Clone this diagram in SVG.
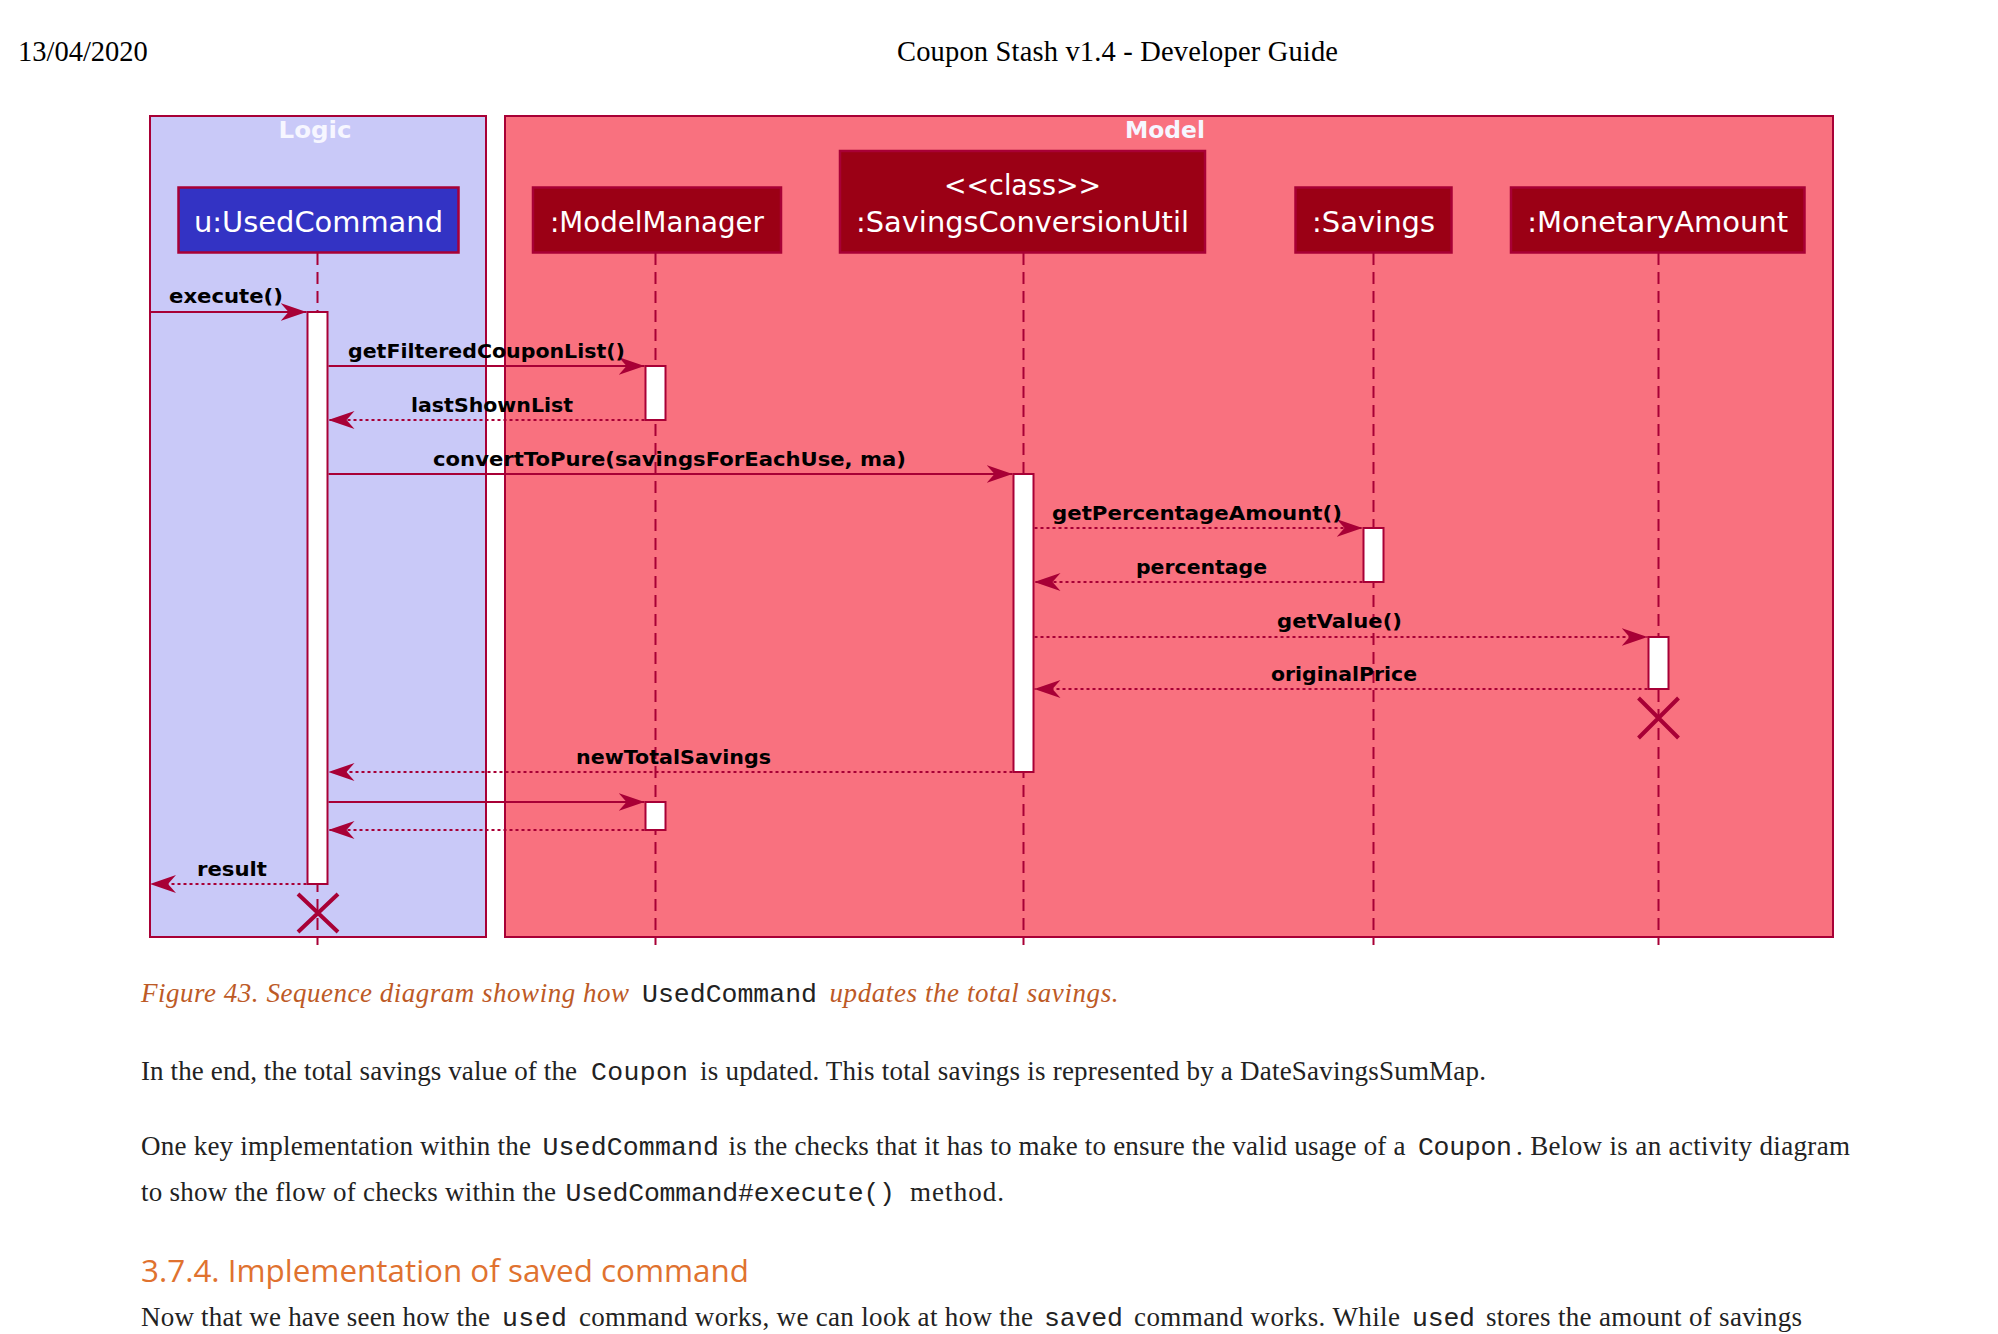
<svg xmlns="http://www.w3.org/2000/svg" width="1998" height="1334" viewBox="0 0 1998 1334">
<style>
.page{font-family:"Liberation Serif","Times New Roman",serif;font-size:28.5px;fill:#000}
.body{font-family:"Liberation Serif","Times New Roman",serif;font-size:27px;fill:#222}
.mono{font-family:"Liberation Mono","Courier New",monospace;font-size:26.5px;fill:#222}
.cap{font-family:"Liberation Serif","Times New Roman",serif;font-size:27px;font-style:italic;fill:#BD5A26}
.h3{font-family:"Open Sans","Noto Sans",sans-serif;font-size:31.4px;fill:#E0722F}
.frame{stroke:#A80036;stroke-width:2}
.frametitle{font-family:"DejaVu Sans",sans-serif;font-weight:bold;font-size:23px;fill:#F6F6FF;text-anchor:middle}
.life{stroke:#A80036;stroke-width:2;stroke-dasharray:12,7;fill:none}
.part{stroke:#A80036;stroke-width:2.5}
.ptext{font-family:"DejaVu Sans",sans-serif;font-size:28px;fill:#FFFFFF;text-anchor:middle}
.act{fill:#FFFFFF;stroke:#A80036;stroke-width:2}
.msg{stroke:#A80036;stroke-width:2;fill:none;marker-end:url(#arr)}
.ret{stroke:#A80036;stroke-width:2;fill:none;stroke-dasharray:3,3;marker-end:url(#arr)}
.lbl{font-family:"DejaVu Sans",sans-serif;font-weight:bold;font-size:20px;fill:#000}
.kill{stroke:#A80036;stroke-width:4;fill:none}
</style>
<defs>
<marker id="arr" markerUnits="userSpaceOnUse" viewBox="0 0 26 20" refX="26" refY="10" markerWidth="26" markerHeight="20" orient="auto">
<path d="M0,1 L26,10 L0,19 L8,10 Z" fill="#A80036"/>
</marker>
</defs>
<rect width="1998" height="1334" fill="#FFFFFF"/>

<g id="page-header">
<text class="page" x="18" y="60.7">13/04/2020</text>
<text class="page" x="897" y="60.7" textLength="441">Coupon Stash v1.4 - Developer Guide</text>
</g>

<g id="frame-logic">
<rect class="frame" x="150" y="116" width="336" height="821" fill="#C9C9F8"/>
<text class="frametitle" x="315" y="138" textLength="73" lengthAdjust="spacingAndGlyphs">Logic</text>
</g>
<g id="frame-model">
<rect class="frame" x="505" y="116" width="1328" height="821" fill="#F9717F"/>
<text class="frametitle" x="1165" y="138" textLength="80" lengthAdjust="spacingAndGlyphs">Model</text>
</g>

<g id="lifelines">
<line class="life" x1="317.5" y1="253" x2="317.5" y2="945"/>
<line class="life" x1="655.5" y1="253" x2="655.5" y2="945"/>
<line class="life" x1="1023.5" y1="253" x2="1023.5" y2="945"/>
<line class="life" x1="1373.5" y1="253" x2="1373.5" y2="945"/>
<line class="life" x1="1658.5" y1="253" x2="1658.5" y2="945"/>
</g>

<g id="p-usedcommand">
<rect class="part" x="178.5" y="187.5" width="280" height="65" fill="#3333C4"/>
<text class="ptext" x="318.5" y="231.5" textLength="249" lengthAdjust="spacingAndGlyphs">u:UsedCommand</text>
</g>
<g id="p-modelmanager">
<rect class="part" x="533" y="187.5" width="248" height="65" fill="#9B0015"/>
<text class="ptext" x="657" y="231.5" textLength="214" lengthAdjust="spacingAndGlyphs">:ModelManager</text>
</g>
<g id="p-savingsconversionutil">
<rect class="part" x="840" y="151" width="365" height="101.5" fill="#9B0015"/>
<text class="ptext" x="1022.5" y="195" textLength="157" lengthAdjust="spacingAndGlyphs">&lt;&lt;class&gt;&gt;</text>
<text class="ptext" x="1022.5" y="231.5" textLength="333" lengthAdjust="spacingAndGlyphs">:SavingsConversionUtil</text>
</g>
<g id="p-savings">
<rect class="part" x="1295.5" y="187.5" width="156" height="65" fill="#9B0015"/>
<text class="ptext" x="1373.5" y="231.5" textLength="123" lengthAdjust="spacingAndGlyphs">:Savings</text>
</g>
<g id="p-monetaryamount">
<rect class="part" x="1511" y="187.5" width="293.5" height="65" fill="#9B0015"/>
<text class="ptext" x="1657.75" y="231.5" textLength="261" lengthAdjust="spacingAndGlyphs">:MonetaryAmount</text>
</g>

<g id="activations">
<rect class="act" x="307.5" y="312" width="20" height="572"/>
<rect class="act" x="645.5" y="366" width="20" height="54"/>
<rect class="act" x="1013.5" y="474" width="20" height="298"/>
<rect class="act" x="1363.5" y="528" width="20" height="54"/>
<rect class="act" x="1648.5" y="637" width="20" height="52"/>
<rect class="act" x="645.5" y="802" width="20" height="28"/>
</g>

<g id="connectors">
<line class="msg" x1="150" y1="312" x2="306.5" y2="312"/>
<line class="msg" x1="328.5" y1="366" x2="644.5" y2="366"/>
<line class="ret" x1="644.5" y1="420" x2="328.5" y2="420"/>
<line class="msg" x1="328.5" y1="474" x2="1012.5" y2="474"/>
<line class="ret" x1="1034.5" y1="528" x2="1362.5" y2="528"/>
<line class="ret" x1="1362.5" y1="582" x2="1034.5" y2="582"/>
<line class="ret" x1="1034.5" y1="637" x2="1647.5" y2="637"/>
<line class="ret" x1="1647.5" y1="689" x2="1034.5" y2="689"/>
<line class="ret" x1="1012.5" y1="772" x2="328.5" y2="772"/>
<line class="msg" x1="328.5" y1="802" x2="644.5" y2="802"/>
<line class="ret" x1="644.5" y1="830" x2="328.5" y2="830"/>
<line class="ret" x1="306.5" y1="884" x2="150" y2="884"/>
</g>

<g id="connector-labels">
<text class="lbl" x="169" y="303" textLength="114" lengthAdjust="spacingAndGlyphs">execute()</text>
<text class="lbl" x="348" y="358" textLength="277" lengthAdjust="spacingAndGlyphs">getFilteredCouponList()</text>
<text class="lbl" x="411" y="412" textLength="162" lengthAdjust="spacingAndGlyphs">lastShownList</text>
<text class="lbl" x="433" y="466" textLength="473" lengthAdjust="spacingAndGlyphs">convertToPure(savingsForEachUse, ma)</text>
<text class="lbl" x="1052" y="520" textLength="290" lengthAdjust="spacingAndGlyphs">getPercentageAmount()</text>
<text class="lbl" x="1136" y="574" textLength="131" lengthAdjust="spacingAndGlyphs">percentage</text>
<text class="lbl" x="1277" y="628" textLength="125" lengthAdjust="spacingAndGlyphs">getValue()</text>
<text class="lbl" x="1271" y="681" textLength="146" lengthAdjust="spacingAndGlyphs">originalPrice</text>
<text class="lbl" x="576" y="764" textLength="195" lengthAdjust="spacingAndGlyphs">newTotalSavings</text>
<text class="lbl" x="197" y="876" textLength="70" lengthAdjust="spacingAndGlyphs">result</text>
</g>

<g id="destroy-usedcommand">
<path class="kill" d="M298,894 L338,932 M338,894 L298,932"/>
</g>
<g id="destroy-monetaryamount">
<path class="kill" d="M1638.5,698 L1678.5,738 M1678.5,698 L1638.5,738"/>
</g>

<g id="caption">
<text class="cap" x="141" y="1001.7" textLength="488">Figure 43. Sequence diagram showing how</text>
<text class="mono" x="642" y="1001.7" textLength="175">UsedCommand</text>
<text class="cap" x="829.5" y="1001.7" textLength="289">updates the total savings.</text>
</g>

<g id="paragraph-1">
<text class="body" x="141" y="1080" textLength="436">In the end, the total savings value of the</text>
<text class="mono" x="591" y="1080" textLength="97">Coupon</text>
<text class="body" x="700" y="1080" textLength="786">is updated. This total savings is represented by a DateSavingsSumMap.</text>
</g>

<g id="paragraph-2">
<text class="body" x="141" y="1155" textLength="390">One key implementation within the</text>
<text class="mono" x="542.5" y="1155" textLength="176.5">UsedCommand</text>
<text class="body" x="728.5" y="1155" textLength="677">is the checks that it has to make to ensure the valid usage of a</text>
<text class="mono" x="1418" y="1155" textLength="94">Coupon</text>
<text class="body" x="1516" y="1155" textLength="334">. Below is an activity diagram</text>
<text class="body" x="141" y="1200.7" textLength="415">to show the flow of checks within the</text>
<text class="mono" x="565.5" y="1200.7" textLength="329.5">UsedCommand#execute()</text>
<text class="body" x="910" y="1200.7" textLength="94">method.</text>
</g>

<g id="heading">
<text class="h3" x="141" y="1282.3" textLength="608">3.7.4. Implementation of saved command</text>
</g>

<g id="paragraph-3">
<text class="body" x="141" y="1326" textLength="349">Now that we have seen how the</text>
<text class="mono" x="502" y="1326" textLength="65">used</text>
<text class="body" x="579" y="1326" textLength="454">command works, we can look at how the</text>
<text class="mono" x="1044" y="1326" textLength="79">saved</text>
<text class="body" x="1134" y="1326" textLength="266">command works. While</text>
<text class="mono" x="1412" y="1326" textLength="63">used</text>
<text class="body" x="1486" y="1326" textLength="316">stores the amount of savings</text>
</g>
</svg>
